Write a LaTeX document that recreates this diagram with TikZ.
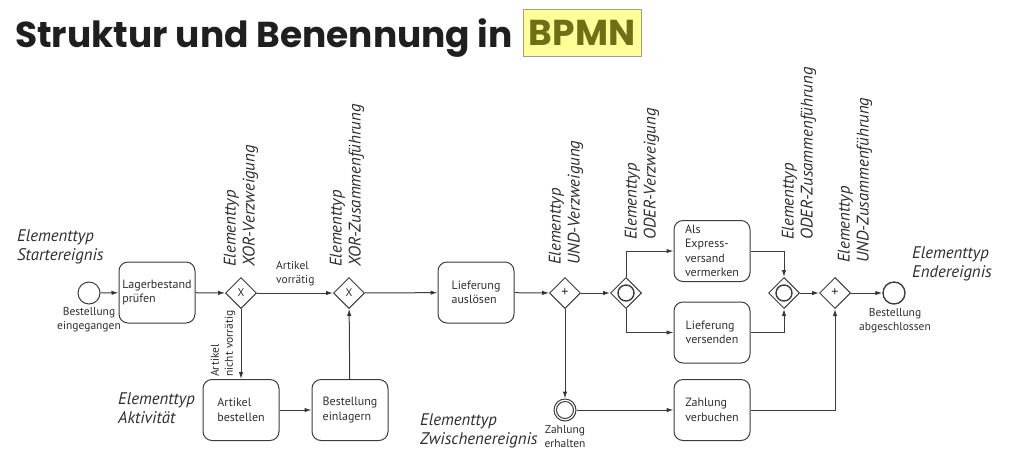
\documentclass[tikz,border=0pt]{standalone}
\usepackage{fontspec}
\setmainfont{PT Sans}
\newfontfamily\titlefont{Poppins}
\usetikzlibrary{arrows.meta,shapes.geometric}
\definecolor{linegray}{HTML}{3C3C3C}
\definecolor{textgray}{HTML}{2E2E2E}
\definecolor{bpmnfill}{HTML}{FFFF99}
\definecolor{bpmnline}{HTML}{9E9E9E}
\definecolor{bpmntext}{HTML}{6F6F17}

\begin{document}
\begin{tikzpicture}[x=1pt,y=-1pt,
	task/.style={draw=linegray,line width=1pt,rounded corners=9pt,minimum width=76pt,minimum height=61pt,align=left,font=\fontsize{12}{14.5}\selectfont,text=textgray},
	gate/.style={draw=linegray,line width=1pt,diamond,aspect=1,minimum size=31pt,inner sep=0pt,font=\fontsize{11}{12}\selectfont,text=textgray},
	orgate/.style={gate,path picture={\draw[line width=1.4pt,linegray] (path picture bounding box.center) circle (8pt);}},
	event/.style={draw=linegray,line width=1pt,circle,minimum size=22pt,inner sep=0pt},
	midevent/.style={event,path picture={\draw[line width=1pt,linegray] (path picture bounding box.center) circle (8.5pt);}},
	endevent/.style={event,line width=1.4pt},
	typ/.style={font=\fontsize{16.8}{19}\selectfont\itshape,text=textgray,align=left,inner sep=0pt},
	vtyp/.style={typ,rotate=90,anchor=west},
	lbl/.style={font=\fontsize{11.5}{14}\selectfont,text=textgray,inner sep=0pt},
	flow/.style={draw=linegray,line width=1pt,-{Latex[length=7pt,width=4.5pt]}}]
	\useasboundingbox (0,0) rectangle (1027,459);

	% Titel
	\node[anchor=base west,inner sep=0pt,font=\titlefont\bfseries\fontsize{36}{40}\selectfont,text=black!88] (title) at (15,47) {Struktur und Benennung in};
	\node[fill=bpmnfill,draw=bpmnline,line width=0.8pt,minimum width=118pt,minimum height=47pt,inner sep=0pt,font=\titlefont\bfseries\fontsize{36}{40}\selectfont,text=bpmntext] (bpmn) at (582,32.5) {BPMN};

	% Ereignisse
	\node[event] (start) at (89,293) {};
	\node[midevent] (zahlerh) at (565,410) {};
	\node[endevent] (ende) at (894,293) {};

	% Aktivitaeten
	\node[task] (lager) at (157,292.5) {Lagerbestand\\prüfen};
	\node[task] (bestellen) at (241,410) {Artikel\\bestellen};
	\node[task] (einlagern) at (350,410) {Bestellung\\einlagern};
	\node[task] (ausloesen) at (476,292.5) {Lieferung\\auslösen};
	\node[task] (express) at (712,251) {Als\\Express-\\versand\\vermerken};
	\node[task] (versenden) at (712,332.5) {Lieferung\\versenden};
	\node[task] (verbuchen) at (712,410) {Zahlung\\verbuchen};

	% Gateways
	\node[gate] (xorsplit) at (241,293) {X};
	\node[gate] (xorjoin) at (349,293) {X};
	\node[gate,font=\fontsize{14}{14}\selectfont] (andsplit) at (565,293) {+};
	\node[orgate] (orsplit) at (626,293) {};
	\node[orgate] (orjoin) at (784,293) {};
	\node[gate,font=\fontsize{14}{14}\selectfont] (andjoin) at (835,293) {+};

	% Beschriftungen
	\node[lbl,anchor=north,align=center] (startlbl) at (89,307) {Bestellung\\eingegangen};
	\node[lbl,anchor=north,align=center] (zahllbl) at (565,425) {Zahlung\\erhalten};
	\node[lbl,anchor=north,align=center] (endlbl) at (895,308) {Bestellung\\abgeschlossen};
	\node[lbl,anchor=north west,align=left] (vorr) at (276,261) {Artikel\\vorrätig};
	\node[lbl,rotate=90,anchor=west,align=left] (nichtvorr) at (223,377) {Artikel\\nicht vorrätig};

	\node[typ,anchor=north west] (typstart) at (17,230) {Elementtyp\\Startereignis};
	\node[typ,anchor=north west] (typakt) at (118,393) {Elementtyp\\Aktivität};
	\node[typ,anchor=north west] (typzw) at (420,414) {Elementtyp\\Zwischenereignis};
	\node[typ,anchor=north west] (typend) at (912,247) {Elementtyp\\Endereignis};
	\node[vtyp] (typxors) at (241,267) {Elementtyp\\XOR-Verzweigung};
	\node[vtyp] (typxorj) at (347,267) {Elementtyp\\XOR-Zusammenführung};
	\node[vtyp] (typands) at (566,265) {Elementtyp\\UND-Verzweigung};
	\node[vtyp] (typors) at (642,240) {Elementtyp\\ODER-Verzweigung};
	\node[vtyp] (typorj) at (799,240) {Elementtyp\\ODER-Zusammenführung};
	\node[vtyp] (typandj) at (855,263) {Elementtyp\\UND-Zusammenführung};

	% Sequenzfluss
	\path [flow] (start) edge (lager);
	\path [flow] (lager) edge (xorsplit);
	\path [flow] (xorsplit) edge (xorjoin);
	\path [flow] (xorsplit) edge (bestellen);
	\path [flow] (bestellen) edge (einlagern);
	\path [flow] (einlagern) edge (xorjoin);
	\path [flow] (xorjoin) edge (ausloesen);
	\path [flow] (ausloesen) edge (andsplit);
	\path [flow] (andsplit) edge (orsplit);
	\path [flow] (andsplit) edge (zahlerh);
	\path [flow] (zahlerh) edge (verbuchen);
	\draw [flow] (orsplit.north) |- (express);
	\draw [flow] (orsplit.south) |- (versenden);
	\draw [flow] (express) -| (orjoin.north);
	\draw [flow] (versenden) -| (orjoin.south);
	\path [flow] (orjoin) edge (andjoin);
	\draw [flow] (verbuchen) -| (andjoin.south);
	\path [flow] (andjoin) edge (ende);
\end{tikzpicture}
\end{document}
